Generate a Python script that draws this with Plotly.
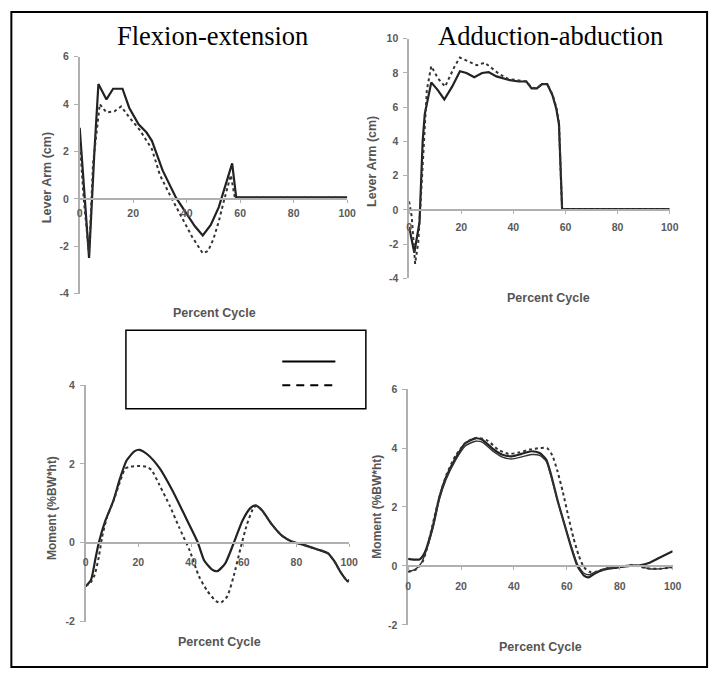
import plotly.graph_objects as go

W, H = 721, 677

# ---------------- data ----------------
# Panel 1: Flexion-extension lever arm (cm)
fe_arm_pct_s = [0, 1.5, 3.5, 5.5, 7, 10, 12.5, 16, 18.5, 22, 25, 27, 31, 36, 40, 43, 46, 49, 52, 54.5, 57, 58.5, 60, 100]
fe_arm_val_s = [3.0, 0.5, -2.5, 2.0, 4.85, 4.2, 4.65, 4.65, 3.85, 3.15, 2.8, 2.45, 1.2, 0.05, -0.65, -1.15, -1.55, -1.1, -0.35, 0.55, 1.5, 0.06, 0.06, 0.06]
fe_arm_pct_d = [0, 1.5, 3.5, 5, 7.5, 10, 13, 15.5, 18.5, 22.5, 27, 30, 34, 38, 42, 46, 48, 50, 52, 54, 56.5, 58, 60, 100]
fe_arm_val_d = [2.5, 0.0, -2.3, 1.5, 4.0, 3.65, 3.7, 3.9, 3.45, 2.9, 2.1, 1.0, 0.1, -0.75, -1.6, -2.3, -2.2, -1.7, -0.95, -0.05, 1.0, 0.06, 0.06, 0.06]

# Panel 2: Adduction-abduction lever arm (cm)
aa_arm_pct_s = [0, 2, 4, 5.2, 6, 8.5, 11, 13.5, 16.5, 19.5, 22, 25, 28, 30.5, 33.5, 38, 42, 45, 47, 49, 51, 53, 55, 56.5, 57.5, 58.7, 60, 100]
aa_arm_val_s = [-1.0, -2.5, -0.7, 4.0, 5.6, 7.45, 7.0, 6.45, 7.2, 8.1, 8.0, 7.75, 8.0, 8.05, 7.8, 7.6, 7.5, 7.5, 7.1, 7.1, 7.35, 7.35, 6.7, 5.9, 5.0, 0.05, 0.05, 0.05]
aa_arm_pct_d = [0, 1, 2.3, 3.5, 4.8, 5.8, 6.8, 8.5, 11, 13.8, 17.5, 19.5, 22.5, 26, 29, 31.5, 34.5, 38, 42, 45, 47, 49, 51, 53, 55, 56.5, 57.5, 58.7, 60, 100]
aa_arm_val_d = [0.5, -0.4, -3.15, -1.9, 1.5, 4.4, 7.0, 8.4, 7.7, 7.2, 8.4, 8.9, 8.7, 8.45, 8.6, 8.3, 7.95, 7.65, 7.55, 7.5, 7.15, 7.1, 7.35, 7.35, 6.75, 6.0, 5.1, 0.05, 0.05, 0.05]

# Panel 3: Flexion-extension moment (%BW*ht)
fe_mom_pct_s = [0, 2, 3.75, 5, 7.5, 10.5, 13, 15.5, 18.5, 20.5, 23.5, 28, 33, 38, 42.5, 45, 48, 50, 53, 56.25, 59.5, 62.5, 64.5, 67, 70.5, 74.5, 78, 83, 88, 92, 94.5, 97, 99.5, 100]
fe_mom_val_s = [-1.1, -0.95, -0.4, 0.0, 0.56, 1.06, 1.62, 2.08, 2.32, 2.36, 2.24, 1.9, 1.32, 0.64, 0.02, -0.45, -0.68, -0.72, -0.52, 0.0, 0.56, 0.88, 0.95, 0.82, 0.48, 0.18, 0.04, -0.06, -0.17, -0.27, -0.48, -0.77, -0.98, -0.94]
fe_mom_pct_d = [0, 2, 3.5, 5, 6.25, 8, 10.5, 13.75, 15, 17, 20, 23, 25, 28, 32, 35.5, 39.5, 43, 46.25, 49.5, 51.25, 53.75, 56.25, 58.75, 61.25, 63.75, 65, 67, 70.5, 74.5, 78, 83, 88, 92, 94.5, 97, 99.5, 100]
fe_mom_val_d = [-1.1, -1.0, -0.8, -0.36, 0.14, 0.62, 1.05, 1.68, 1.88, 1.93, 1.95, 1.93, 1.85, 1.47, 0.93, 0.39, -0.2, -0.85, -1.23, -1.48, -1.52, -1.36, -0.83, -0.15, 0.47, 0.89, 0.94, 0.82, 0.48, 0.18, 0.04, -0.06, -0.17, -0.27, -0.48, -0.77, -0.98, -0.94]

# Panel 4: Adduction-abduction moment (%BW*ht)
aa_mom_pct_s = [0, 4.3, 6.2, 9.3, 11.8, 14.3, 18, 21.7, 25.5, 28, 31.7, 35.4, 39.1, 42.9, 46.6, 49.7, 52.2, 54, 56.5, 59, 61.5, 64, 66.5, 68.3, 70.2, 73.9, 78.9, 83.9, 87.6, 91.3, 95, 100]
aa_mom_val_s = [0.24, 0.22, 0.44, 1.33, 2.33, 3.0, 3.67, 4.17, 4.33, 4.28, 4.0, 3.78, 3.72, 3.8, 3.89, 3.83, 3.61, 3.1, 2.22, 1.44, 0.67, 0.0, -0.33, -0.39, -0.28, -0.13, -0.06, 0.0, 0.02, 0.11, 0.28, 0.5]
aa_mom_pct_s2 = [0, 3, 5, 6.2, 9.3, 11.8, 14.3, 18, 21.7, 25.5, 28, 31.7, 35.4, 39.1, 42.9, 46.6, 49.7, 52.2, 54, 56.5, 59, 61.5, 64, 66.5, 68.5, 70.5, 74, 79, 84, 87.5, 91, 95, 100]
aa_mom_val_s2 = [-0.2, -0.1, 0.1, 0.35, 1.25, 2.25, 2.92, 3.6, 4.08, 4.23, 4.2, 3.92, 3.7, 3.63, 3.7, 3.78, 3.75, 3.55, 3.05, 2.2, 1.45, 0.7, 0.05, -0.25, -0.3, -0.22, -0.1, -0.04, 0.02, 0.0, -0.1, -0.1, -0.05]
aa_mom_pct_d = [0, 3, 5, 7, 9.5, 12, 14.5, 18, 22, 26, 30, 34, 38, 42, 46, 50, 52.5, 54.5, 56.5, 58.5, 60.5, 62.5, 64.5, 66.5, 68.5, 71, 75, 80, 85, 90, 95, 100]
aa_mom_val_d = [-0.2, -0.12, 0.05, 0.55, 1.5, 2.4, 3.1, 3.75, 4.2, 4.35, 4.25, 3.95, 3.8, 3.85, 3.95, 4.0, 4.0, 3.75, 3.2, 2.5, 1.7, 0.95, 0.35, -0.05, -0.2, -0.2, -0.08, -0.03, 0.03, -0.08, -0.1, -0.05]

x_ticks = [0, 20, 40, 60, 80, 100]
y_ticks_fe_arm = [-4, -2, 0, 2, 4, 6]
y_ticks_aa_arm = [-4, -2, 0, 2, 4, 6, 8, 10]
y_ticks_mom_fe = [-2, 0, 2, 4]
y_ticks_mom_aa = [-2, 0, 2, 4, 6]

titles = ["Flexion-extension", "Adduction-abduction"]
arm_label = "Lever Arm (cm)"
mom_label = "Moment (%BW*ht)"
x_label = "Percent Cycle"

# ---------------- layout helpers ----------------
def px(x):
    return x / W

def py(y):
    return 1 - y / H

# panel geometry in pixels
panels = [
    dict(xl=78, xr=350, yt=51.7, yb=292.7, yr=(-4, 6), yt_vals=y_ticks_fe_arm, xs=2),
    dict(xl=413, xr=678, yt=33.3, yb=277.3, yr=(-4, 10), yt_vals=y_ticks_aa_arm, xs=5),
    dict(xl=84, xr=352, yt=386, yb=626.7, yr=(-2, 4), yt_vals=y_ticks_mom_fe, xs=7),
    dict(xl=412, xr=681, yt=390, yb=630, yr=(-2, 6), yt_vals=y_ticks_mom_aa, xs=8),
]

series = [
    [(fe_arm_pct_s, fe_arm_val_s, "solid"), (fe_arm_pct_d, fe_arm_val_d, "dash")],
    [(aa_arm_pct_s, aa_arm_val_s, "solid"), (aa_arm_pct_d, aa_arm_val_d, "dash")],
    [(fe_mom_pct_s, fe_mom_val_s, "solid"), (fe_mom_pct_d, fe_mom_val_d, "dash")],
    [(aa_mom_pct_s, aa_mom_val_s, "solid"), (aa_mom_pct_s2, aa_mom_val_s2, "solid2"), (aa_mom_pct_d, aa_mom_val_d, "dash")],
]
shapes_kind = ["linear", "linear", "spline", "spline"]

fig = go.Figure()
tick_font = dict(family="Liberation Sans", size=10.5, color="#5a5a5a", weight="bold")
axcol = "#b0b0b0"

for i, p in enumerate(panels):
    n = "" if i == 0 else str(i + 1)
    xd = [px(p["xl"]), px(p["xr"])]
    yd = [py(p["yb"]), py(p["yt"])]
    ymin, ymax = p["yr"]
    zero_pos = yd[0] + (0 - ymin) / (ymax - ymin) * (yd[1] - yd[0])
    for (xs, ys, kind) in series[i]:
        if kind == "solid":
            line = dict(color="#222", width=2.2, shape=shapes_kind[i], smoothing=0.6)
        elif kind == "solid2":
            line = dict(color="#333", width=1.4, shape=shapes_kind[i], smoothing=0.6)
        else:
            line = dict(color="#333", width=2, dash="3px,3px", shape=shapes_kind[i], smoothing=0.6)
        fig.add_trace(go.Scatter(x=xs, y=ys, mode="lines", line=line,
                                 xaxis="x" + n, yaxis="y" + n, showlegend=False,
                                 hoverinfo="skip"))
    fig.layout["xaxis" + n] = dict(
        domain=xd, range=[0, 100], anchor="free", position=zero_pos,
        showline=True, linecolor=axcol, linewidth=1.5,
        tickvals=x_ticks, ticktext=[str(v) for v in x_ticks],
        ticks="outside", ticklen=3, tickcolor=axcol, ticklabelstandoff=p["xs"],
        tickfont=tick_font, showgrid=False, zeroline=False, fixedrange=True)
    fig.layout["yaxis" + n] = dict(
        domain=yd, range=[ymin, ymax], anchor="x" + n,
        showline=True, linecolor=axcol, linewidth=1.5,
        tickvals=p["yt_vals"], ticktext=[str(v) for v in p["yt_vals"]],
        ticks="outside", ticklen=4, tickcolor=axcol, ticklabelstandoff=3,
        tickfont=tick_font, showgrid=False, zeroline=False, fixedrange=True)

ann = []
lab_font = dict(family="Liberation Sans", size=12.5, color="#555", weight="bold")
mom_font = dict(family="Liberation Sans", size=12, color="#555", weight="bold")
ttl_font = dict(family="Liberation Serif", size=26.5, color="#000")
ann.append(dict(x=px(213), y=py(31), text=titles[0], font=ttl_font))
ann.append(dict(x=px(557), y=py(31), text=titles[1], font=ttl_font))
for (cx, cy) in [(215, 313), (555, 297), (220, 647), (547, 653)]:
    ann.append(dict(x=px(cx), y=py(cy), text=x_label, font=lab_font))
for (cx, cy, t, f) in [(45, 175, arm_label, lab_font), (375, 158, arm_label, lab_font),
                       (50, 511, mom_label, mom_font), (380, 510, mom_label, mom_font)]:
    ann.append(dict(x=px(cx), y=py(cy), text=t, font=f, textangle=-90))
for a in ann:
    a.update(xref="paper", yref="paper", showarrow=False, xanchor="center", yanchor="middle")

shapes = [
    # outer frame
    dict(type="rect", xref="paper", yref="paper", x0=px(8.5), x1=px(716), y0=py(673), y1=py(6),
         line=dict(color="#000", width=2)),
    # legend box
    dict(type="rect", xref="paper", yref="paper", x0=px(125), x1=px(369), y0=py(410), y1=py(330),
         line=dict(color="#000", width=1.5), fillcolor="white", layer="above"),
    dict(type="line", xref="paper", yref="paper", x0=px(284), x1=px(338), y0=py(362), y1=py(362),
         line=dict(color="#000", width=2), layer="above"),
    dict(type="line", xref="paper", yref="paper", x0=px(284), x1=px(338), y0=py(386), y1=py(386),
         line=dict(color="#000", width=2, dash="8px,6px"), layer="above"),
]

fig.update_layout(width=W, height=H, margin=dict(l=0, r=0, t=0, b=0),
                  paper_bgcolor="white", plot_bgcolor="rgba(0,0,0,0)",
                  annotations=ann, shapes=shapes, showlegend=False)

fig.write_html("out.html", config={"displayModeBar": False},
               post_script="document.body.style.margin='0';document.body.style.overflow='hidden';")
